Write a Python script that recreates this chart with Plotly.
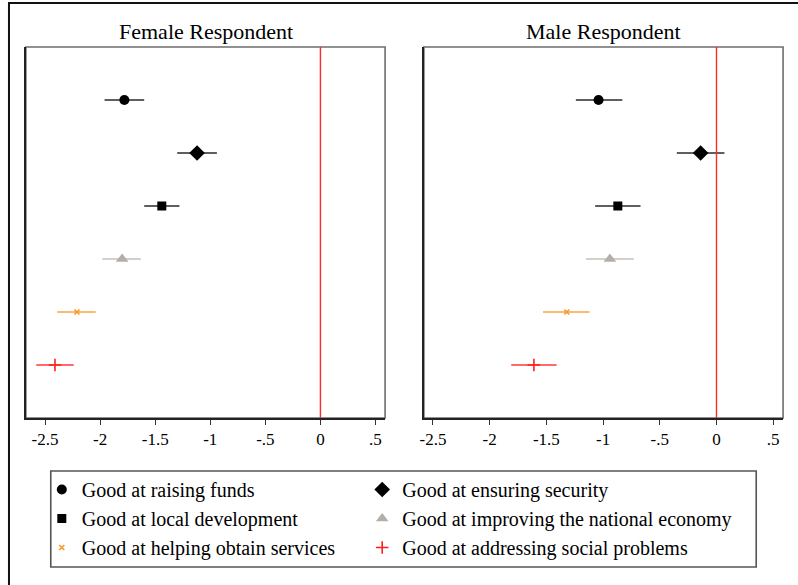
import plotly.graph_objects as go

categories = [
    "Good at raising funds",
    "Good at ensuring security",
    "Good at local development",
    "Good at improving the national economy",
    "Good at helping obtain services",
    "Good at addressing social problems",
]
female_est = [-1.78, -1.12, -1.44, -1.80, -2.21, -2.41]
female_lo = [-1.96, -1.30, -1.60, -1.98, -2.39, -2.58]
female_hi = [-1.60, -0.94, -1.28, -1.63, -2.04, -2.24]
male_est = [-1.04, -0.14, -0.87, -0.94, -1.32, -1.61]
male_lo = [-1.24, -0.35, -1.07, -1.15, -1.53, -1.81]
male_hi = [-0.83, 0.07, -0.67, -0.73, -1.12, -1.41]

tick_vals = [-2.5, -2, -1.5, -1, -0.5, 0, 0.5]
tick_text = ["-2.5", "-2", "-1.5", "-1", "-.5", "0", ".5"]

symbols = ["circle", "diamond", "square", "triangle-up", "x-thin", "cross-thin"]
sizes = [10, 12, 9, 11, 5, 9]
marker_colors = ["#000000", "#000000", "#000000", "#b3aea8", "#f59a23", "#ff1f1f"]
line_colors = ["#2a2a2a", "#2a2a2a", "#2a2a2a", "#c4c0bb", "#f7a540", "#ff3a3a"]
# legend column for each category (two-column legend layout)
legend_ids = ["legend", "legend2", "legend", "legend2", "legend", "legend2"]

FONT = "Liberation Serif"
W, H = 798, 585

fig = go.Figure()

panels = [
    ("x", "y", female_est, female_lo, female_hi, True),
    ("x2", "y2", male_est, male_lo, male_hi, False),
]
for xa, ya, est, lo, hi, show in panels:
    for i, cat in enumerate(categories):
        sym = symbols[i]
        mk = dict(symbol=sym, size=sizes[i], color=marker_colors[i])
        if sym.endswith("-thin"):
            mk["line"] = dict(color=marker_colors[i], width=1.6)
        fig.add_trace(go.Scatter(
            x=[est[i]], y=[i + 1], mode="markers", name=cat,
            xaxis=xa, yaxis=ya, showlegend=show, legend=legend_ids[i],
            marker=mk,
            error_x=dict(type="data", symmetric=False,
                         array=[hi[i] - est[i]], arrayminus=[est[i] - lo[i]],
                         color=line_colors[i], thickness=1.6, width=0),
            hoverinfo="x+name",
        ))

def px_x(p):
    return p / W

def px_y(p):
    return 1 - p / H

top, bottom = 47, 418
L0, L1 = 22, 383
R0, R1 = 422, 783
axis_common = dict(
    tickmode="array", tickvals=tick_vals, ticktext=tick_text,
    ticks="outside", ticklen=5, tickwidth=1.2, tickcolor="#333",
    showgrid=False, zeroline=False, showline=True, linecolor="#222", linewidth=2,
    tickfont=dict(family=FONT, size=17, color="#000"),
)
yaxis_common = dict(range=[7, 0], showticklabels=False, ticks="", showgrid=False,
                    zeroline=False, showline=True, linecolor="#222", linewidth=2,
                    domain=[px_y(bottom), px_y(top)])

legend_common = dict(
    orientation="v", xanchor="left", yanchor="top",
    font=dict(family=FONT, size=20, color="#000"),
    bgcolor="rgba(0,0,0,0)", borderwidth=0, traceorder="normal",
)

fig.update_layout(
    width=W, height=H, autosize=False,
    margin=dict(l=0, r=0, t=0, b=0),
    paper_bgcolor="white", plot_bgcolor="white",
    font=dict(family=FONT, color="#000"),
    xaxis=dict(axis_common, range=[-2.674, 0.587], domain=[px_x(L0), px_x(L1)], anchor="y"),
    yaxis=dict(yaxis_common, anchor="x"),
    xaxis2=dict(axis_common, range=[-2.58, 0.587], domain=[px_x(R0), px_x(R1)], anchor="y2"),
    yaxis2=dict(yaxis_common, anchor="x2"),
    showlegend=True,
    legend=dict(legend_common, x=px_x(38), y=px_y(470)),
    legend2=dict(legend_common, x=px_x(360), y=px_y(470)),
)

shapes = []
# panel frames (top/right gray)
for x0, x1 in [(L0, L1), (R0, R1)]:
    shapes.append(dict(type="rect", xref="paper", yref="paper",
                       x0=px_x(x0), x1=px_x(x1), y0=px_y(bottom), y1=px_y(top),
                       line=dict(color="#6e6e6e", width=1.6), layer="below"))
# zero reference lines
for xa, ya in [("x", "y"), ("x2", "y2")]:
    shapes.append(dict(type="line", xref=xa, yref=ya + " domain", x0=0, x1=0, y0=0, y1=1,
                       line=dict(color="#ff2a2a", width=1.4)))
# legend box
shapes.append(dict(type="rect", xref="paper", yref="paper",
                   x0=px_x(47), x1=px_x(756), y0=px_y(567), y1=px_y(471),
                   line=dict(color="#555", width=1.6)))
# outer frame
shapes.append(dict(type="rect", xref="paper", yref="paper",
                   x0=px_x(5), x1=px_x(805), y0=px_y(595), y1=px_y(3),
                   line=dict(color="#111", width=2)))
fig.update_layout(shapes=shapes)

for label, cx in [("Female Respondent", 203.5), ("Male Respondent", 602.5)]:
    fig.add_annotation(text=label, x=px_x(cx), y=px_y(31), xref="paper", yref="paper",
                       xanchor="center", yanchor="middle", showarrow=False,
                       font=dict(family=FONT, size=22, color="#000"))

fig.write_html("out.html")
